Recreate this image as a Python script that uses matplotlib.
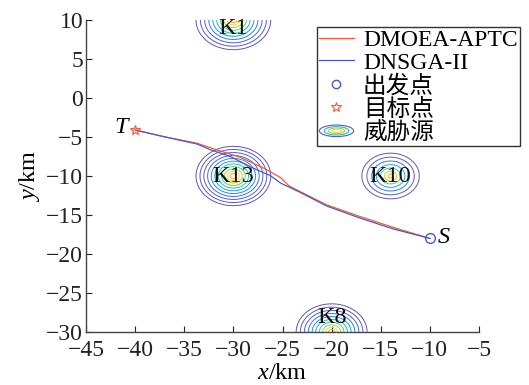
import numpy as np
import matplotlib
matplotlib.use("Agg")
import matplotlib.pyplot as plt
from matplotlib.colors import LinearSegmentedColormap
from matplotlib.patches import Ellipse
from matplotlib.legend_handler import HandlerBase
from matplotlib.lines import Line2D

plt.rcParams['font.family'] = ['Liberation Serif', 'Noto Sans CJK SC']
plt.rcParams['mathtext.fontset'] = 'custom'
plt.rcParams['mathtext.rm'] = 'Liberation Serif'
plt.rcParams['mathtext.it'] = 'Liberation Serif:italic'

# ---- data ----
threat_names = ['K1', 'K13', 'K10', 'K8']
threat_x = [-30, -30, -14, -20]
threat_y = [10, -10, -10, -30]
threat_r = [3.9, 3.9, 3.0, 3.7]
threat_nlev = [10, 11, 7, 10]
label_y = [8.9, -10, -10, -28.1]

start_pt = (-10, -18)
target_pt = (-40, -4.1)

aptc_x = [-40.0, -37.1, -33.7, -31.7, -29.3, -26.9, -25.2, -24.3, -23.2, -20.5, -17.1, -13.7, -10.0]
aptc_y = [-4.1, -4.95, -5.8, -6.65, -7.6, -9.0, -10.2, -11.3, -12.0, -13.7, -15.2, -16.6, -18.0]
dnsga_x = [-40.0, -37.1, -33.7, -32.4, -30.3, -28.3, -26.9, -26.3, -25.2, -23.2, -20.5, -17.1, -13.7, -10.0]
dnsga_y = [-4.1, -4.95, -5.9, -6.6, -7.5, -8.8, -9.6, -9.9, -10.9, -12.1, -13.85, -15.4, -16.8, -18.0]

xticks = [-45, -40, -35, -30, -25, -20, -15, -10, -5]
yticks = [-30, -25, -20, -15, -10, -5, 0, 5, 10]

parula = LinearSegmentedColormap.from_list('parula', [
    (0.38, 0.34, 0.68), (0.30, 0.40, 0.88), (0.15, 0.58, 0.90),
    (0.10, 0.74, 0.75), (0.35, 0.80, 0.50), (0.75, 0.80, 0.20),
    (0.98, 0.85, 0.25), (0.97, 0.68, 0.20)])

red = '#ee5a3a'
blue = '#4a5ac4'
FS = 17.5

fig = plt.figure(figsize=(5.29, 3.85), dpi=100)
ax = fig.add_axes([86/529, 53/385, 393/529, 312/385])

for cx, cy, r, n in zip(threat_x, threat_y, threat_r, threat_nlev):
    gx = np.linspace(cx - r * 1.2, cx + r * 1.2, 300)
    gy = np.linspace(cy - r * 1.2, cy + r * 1.2, 300)
    X, Y = np.meshgrid(gx, gy)
    D = np.sqrt((X - cx) ** 2 + (Y - cy) ** 2) / r
    Z = 1 - D ** 0.8
    levels = np.linspace(0.02, 0.86, n)
    cols = [parula((i / (n - 1)) ** 1.5) for i in range(n)]
    ax.contour(X, Y, Z, levels=levels, colors=cols, linewidths=0.7)

for name, cx, ly in zip(threat_names, threat_x, label_y):
    ax.text(cx, ly, name, ha='center', va='center', fontsize=FS, color='#111111')

ax.plot(aptc_x, aptc_y, color=red, lw=0.9)
ax.plot(dnsga_x, dnsga_y, color=blue, lw=0.9)
ax.plot(*start_pt, 'o', mfc='none', mec=blue, ms=7, mew=1)
ax.plot(*target_pt, '*', mfc='none', mec=red, ms=7, mew=0.8)
ax.text(target_pt[0] - 0.4, target_pt[1] + 0.3, r'$\it{T}$', fontsize=FS, ha='right', va='center')
ax.text(start_pt[0] + 0.7, start_pt[1] + 0.1, r'$\it{S}$', fontsize=FS, ha='left', va='center')

ax.set_xlim(-45, -5)
ax.set_ylim(-30, 10)
ax.set_xticks(xticks)
ax.set_yticks(yticks)
ax.set_xticklabels([f'\u2212{abs(v)}' if v < 0 else str(v) for v in xticks])
ax.set_yticklabels([f'\u2212{abs(v)}' if v < 0 else str(v) for v in yticks])
ax.tick_params(direction='in', length=4, width=0.8, labelsize=17, colors='#222222')
ax.tick_params(axis='x', pad=6)
ax.tick_params(axis='y', pad=2)
for s in ['top', 'right']:
    ax.spines[s].set_visible(False)
for s in ['left', 'bottom']:
    ax.spines[s].set_color('#444444')
    ax.spines[s].set_linewidth(1.0)
ax.set_xlabel(r'$\it{x}$/km', fontsize=FS, labelpad=1)
ax.set_ylabel(r'$\it{y}$/km', fontsize=FS, labelpad=3)


class ThreatHandle:
    pass


class HandlerThreat(HandlerBase):
    def create_artists(self, legend, orig_handle, xdescent, ydescent,
                       width, height, fontsize, trans):
        cx = width / 2 - xdescent
        cy = height / 2 - ydescent
        arts = []
        for s, c in zip([1.0, 0.72, 0.48, 0.28],
                        [parula(0.0), parula(0.45), parula(0.7), parula(0.88)]):
            e = Ellipse((cx, cy), width * s, height * 0.7 * s, fill=False,
                        edgecolor=c, lw=0.8, transform=trans)
            arts.append(e)
        return arts


handles = [Line2D([], [], color=red, lw=0.9),
           Line2D([], [], color=blue, lw=0.9),
           Line2D([], [], ls='none', marker='o', mfc='none', mec=blue, ms=6),
           Line2D([], [], ls='none', marker='*', mfc='none', mec=red, ms=7, mew=0.8),
           ThreatHandle()]
labels = ['DMOEA-APTC', 'DNSGA-II', '出发点', '目标点', '威胁源']
leg = fig.legend(handles, labels, loc='upper left', bbox_to_anchor=(317/529, 1 - 27/385),
                 bbox_transform=fig.transFigure, borderaxespad=0, fontsize=17,
                 handlelength=1.45, handletextpad=0.4, labelspacing=0.05, borderpad=0.1,
                 fancybox=False, framealpha=1, edgecolor='#333333',
                 handler_map={ThreatHandle: HandlerThreat()})
leg.get_frame().set_linewidth(1.0)

fig.savefig('out.png', dpi=100)
